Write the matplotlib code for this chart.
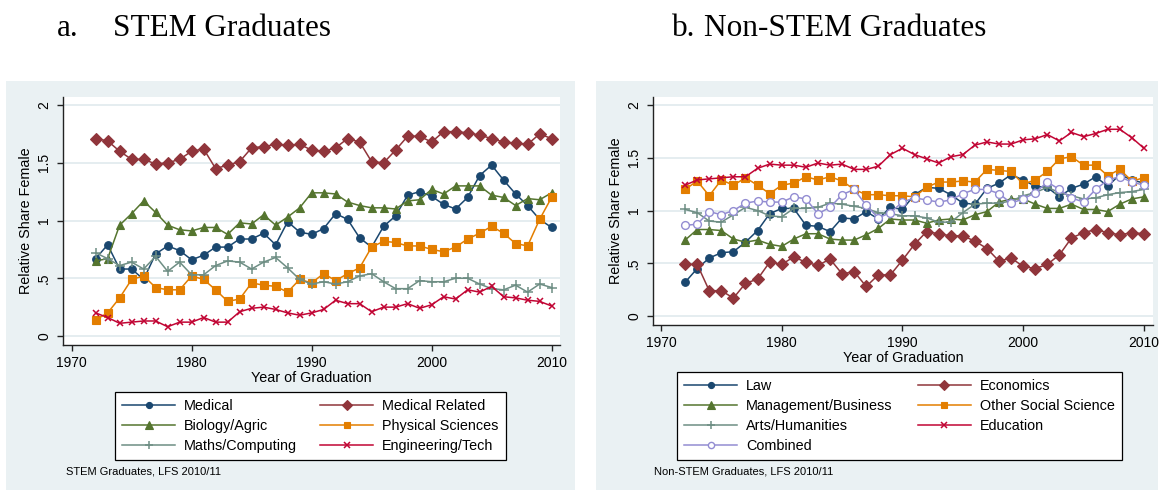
import numpy as np
import matplotlib
matplotlib.use("Agg")
import matplotlib.pyplot as plt
from matplotlib.patches import Rectangle

plt.rcParams['font.family'] = ['Liberation Sans', 'DejaVu Sans']

years = np.arange(1972, 2011)

# panel a: STEM graduates
medical = [0.67, 0.79, 0.58, 0.58, 0.49, 0.71, 0.78, 0.74, 0.66, 0.70,
           0.77, 0.77, 0.84, 0.84, 0.89, 0.79, 0.99, 0.90, 0.88, 0.93,
           1.06, 1.01, 0.85, 0.77, 0.95, 1.04, 1.22, 1.25, 1.21, 1.14,
           1.10, 1.20, 1.39, 1.48, 1.35, 1.23, 1.13, 1.01, 0.94]
medical_related = [1.71, 1.69, 1.60, 1.53, 1.53, 1.49, 1.50, 1.53, 1.60, 1.62,
                   1.45, 1.48, 1.51, 1.63, 1.64, 1.66, 1.65, 1.66, 1.61, 1.60,
                   1.63, 1.71, 1.68, 1.51, 1.50, 1.61, 1.73, 1.73, 1.68, 1.77,
                   1.77, 1.76, 1.74, 1.71, 1.68, 1.67, 1.66, 1.75, 1.71]
biology = [0.65, 0.67, 0.96, 1.06, 1.17, 1.07, 0.96, 0.92, 0.91, 0.94,
           0.94, 0.88, 0.98, 0.97, 1.05, 0.96, 1.03, 1.11, 1.24, 1.24,
           1.23, 1.16, 1.13, 1.11, 1.11, 1.10, 1.17, 1.18, 1.27, 1.23,
           1.30, 1.30, 1.30, 1.22, 1.20, 1.13, 1.19, 1.18, 1.24]
physical = [0.14, 0.20, 0.33, 0.49, 0.52, 0.42, 0.40, 0.40, 0.52, 0.49,
            0.40, 0.30, 0.32, 0.46, 0.44, 0.43, 0.38, 0.49, 0.46, 0.54,
            0.48, 0.54, 0.59, 0.77, 0.82, 0.81, 0.78, 0.78, 0.75, 0.73,
            0.77, 0.84, 0.89, 0.95, 0.89, 0.80, 0.78, 1.01, 1.20]
maths = [0.72, 0.67, 0.61, 0.64, 0.58, 0.69, 0.56, 0.64, 0.53, 0.53,
         0.61, 0.65, 0.64, 0.58, 0.64, 0.68, 0.59, 0.49, 0.45, 0.47,
         0.45, 0.47, 0.52, 0.54, 0.47, 0.41, 0.41, 0.48, 0.47, 0.47,
         0.50, 0.50, 0.45, 0.41, 0.40, 0.44, 0.38, 0.45, 0.42]
engineering = [0.20, 0.16, 0.11, 0.12, 0.13, 0.13, 0.08, 0.12, 0.12, 0.16,
               0.12, 0.12, 0.21, 0.24, 0.25, 0.23, 0.20, 0.18, 0.20, 0.23,
               0.31, 0.28, 0.28, 0.21, 0.25, 0.25, 0.28, 0.24, 0.27, 0.34,
               0.32, 0.40, 0.38, 0.43, 0.34, 0.33, 0.31, 0.30, 0.26]

# panel b: non-STEM graduates
law = [0.32, 0.45, 0.55, 0.60, 0.61, 0.70, 0.81, 0.97, 1.02, 1.02,
       0.86, 0.85, 0.80, 0.93, 0.92, 0.99, 0.92, 1.03, 1.01, 1.15,
       1.22, 1.21, 1.15, 1.07, 1.06, 1.21, 1.26, 1.34, 1.29, 1.23,
       1.22, 1.13, 1.21, 1.25, 1.32, 1.23, 1.34, 1.29, 1.26]
economics = [0.49, 0.49, 0.24, 0.24, 0.17, 0.31, 0.35, 0.51, 0.49, 0.56,
             0.51, 0.48, 0.54, 0.40, 0.42, 0.28, 0.39, 0.39, 0.53, 0.68,
             0.80, 0.78, 0.76, 0.76, 0.71, 0.64, 0.52, 0.55, 0.47, 0.45,
             0.49, 0.58, 0.74, 0.79, 0.82, 0.79, 0.77, 0.79, 0.78]
management = [0.72, 0.82, 0.82, 0.81, 0.73, 0.70, 0.72, 0.68, 0.66, 0.73,
              0.78, 0.78, 0.73, 0.72, 0.72, 0.77, 0.83, 0.92, 0.91, 0.91,
              0.88, 0.91, 0.92, 0.91, 0.96, 0.99, 1.08, 1.11, 1.11, 1.06,
              1.02, 1.02, 1.06, 1.01, 1.01, 0.99, 1.06, 1.11, 1.13]
other_social = [1.20, 1.28, 1.14, 1.29, 1.24, 1.31, 1.24, 1.16, 1.24, 1.26,
                1.32, 1.29, 1.32, 1.28, 1.20, 1.15, 1.15, 1.14, 1.14, 1.13,
                1.22, 1.27, 1.27, 1.28, 1.27, 1.39, 1.38, 1.37, 1.25, 1.29,
                1.37, 1.49, 1.51, 1.43, 1.43, 1.33, 1.39, 1.28, 1.31]
arts = [1.01, 0.98, 0.90, 0.89, 0.96, 1.03, 1.00, 0.95, 0.94, 1.02,
        1.02, 1.03, 1.07, 1.06, 1.04, 1.02, 0.98, 0.97, 0.95, 0.95,
        0.93, 0.89, 0.89, 0.98, 1.06, 1.07, 1.07, 1.09, 1.14, 1.17,
        1.22, 1.17, 1.14, 1.11, 1.12, 1.15, 1.17, 1.18, 1.20]
education = [1.24, 1.29, 1.30, 1.31, 1.32, 1.32, 1.40, 1.44, 1.43, 1.43,
             1.41, 1.45, 1.43, 1.44, 1.39, 1.39, 1.42, 1.53, 1.59, 1.53,
             1.49, 1.45, 1.51, 1.53, 1.62, 1.65, 1.63, 1.63, 1.67, 1.68,
             1.72, 1.66, 1.74, 1.70, 1.73, 1.77, 1.77, 1.69, 1.59]
combined = [0.86, 0.87, 0.99, 0.96, 1.00, 1.07, 1.09, 1.08, 1.08, 1.13,
            1.11, 0.97, 1.03, 1.15, 1.20, 1.05, 0.93, 0.98, 1.08, 1.12,
            1.10, 1.08, 1.10, 1.16, 1.20, 1.20, 1.16, 1.07, 1.11, 1.17,
            1.27, 1.20, 1.12, 1.08, 1.20, 1.29, 1.32, 1.27, 1.24]

# Stata s2color palette
NAVY = '#1A476F'
MAROON = '#90353B'
FOREST = '#55752F'
DKORANGE = '#E37E00'
TEAL = '#6E8E84'
CRANBERRY = '#C10534'
LAVENDER = '#938DD2'
PANEL_BG = '#EAF1F3'
GRID = '#E3ECEF'

W, H = 1163, 490
fig = plt.figure(figsize=(W / 100, H / 100), dpi=100)


def px_rect(x0, y0, x1, y1):
    # pixel box (top-left origin) -> figure fraction [left, bottom, width, height]
    return [x0 / W, 1 - y1 / H, (x1 - x0) / W, (y1 - y0) / H]


# graph region backgrounds (kept behind the axes)
for x0, x1 in [(6, 575), (596, 1158)]:
    l, b, w, h = px_rect(x0, 81, x1, 490)
    fig.patches.append(Rectangle((l, b), w, h, transform=fig.transFigure,
                                 facecolor=PANEL_BG, edgecolor='none', zorder=-10))

ax_a = fig.add_axes(px_rect(63, 97, 560, 345))
ax_b = fig.add_axes(px_rect(653, 97, 1153, 325))


def style_axes(ax, ylim, xlim):
    ax.set_facecolor('white')
    ax.set_xlim(*xlim)
    ax.set_ylim(*ylim)
    for side in ['top', 'right']:
        ax.spines[side].set_visible(False)
    for side in ['left', 'bottom']:
        ax.spines[side].set_color('#222222')
        ax.spines[side].set_linewidth(1.0)
    ax.set_yticks([0, 0.5, 1, 1.5, 2], ['0', '.5', '1', '1.5', '2'])
    ax.set_xticks([1970, 1980, 1990, 2000, 2010])
    ax.tick_params(axis='both', direction='out', length=4.5, width=1.0,
                   color='#222222', labelsize=10)
    ax.tick_params(axis='x', pad=3.5)
    ax.tick_params(axis='y', labelrotation=90, pad=4)
    for lab in ax.get_yticklabels():
        lab.set_va('center')
    ax.yaxis.grid(True, color=GRID, linewidth=1.3)
    ax.set_axisbelow(True)
    ax.set_xlabel('Year of Graduation', fontsize=10.4, labelpad=1)
    ax.set_ylabel('Relative Share Female', fontsize=10.4, labelpad=3)


def draw(ax, values, color, marker, ms, label, mfc=None, mew=0.8):
    return ax.plot(years, values, color=color, linewidth=1.1, marker=marker,
                   markersize=ms, markerfacecolor=mfc if mfc else color,
                   markeredgecolor=color, markeredgewidth=mew, label=label)[0]


style_axes(ax_a, (-0.078, 2.07), (1969.28, 2010.7))
style_axes(ax_b, (-0.085, 2.076), (1969.34, 2010.75))

# panel a series
h_med = draw(ax_a, medical, NAVY, 'o', 5.5, 'Medical')
h_medrel = draw(ax_a, medical_related, MAROON, 'D', 6.6, 'Medical Related')
h_bio = draw(ax_a, biology, FOREST, '^', 6.4, 'Biology/Agric')
h_phys = draw(ax_a, physical, DKORANGE, 's', 5.9, 'Physical Sciences')
h_math = draw(ax_a, maths, TEAL, '+', 7, 'Maths/Computing', mew=1.1)
h_eng = draw(ax_a, engineering, CRANBERRY, 'x', 5, 'Engineering/Tech', mew=1.1)

# panel b series
h_law = draw(ax_b, law, NAVY, 'o', 5.5, 'Law')
h_eco = draw(ax_b, economics, MAROON, 'D', 6.6, 'Economics')
h_man = draw(ax_b, management, FOREST, '^', 6.4, 'Management/Business')
h_oss = draw(ax_b, other_social, DKORANGE, 's', 5.9, 'Other Social Science')
h_art = draw(ax_b, arts, TEAL, '+', 7, 'Arts/Humanities', mew=1.1)
h_edu = draw(ax_b, education, CRANBERRY, 'x', 5, 'Education', mew=1.1)
h_com = draw(ax_b, combined, LAVENDER, 'o', 5.6, 'Combined', mfc='white', mew=1.0)

leg_kw = dict(loc='upper left', ncol=2, fontsize=10.4, frameon=True,
              fancybox=False, borderaxespad=0, borderpad=0.5,
              handlelength=3.67, handletextpad=0.62, labelspacing=0.41,
              numpoints=1, markerscale=0.8, bbox_transform=fig.transFigure)

leg_a = ax_a.legend([h_med, h_bio, h_math, h_medrel, h_phys, h_eng],
                    ['Medical', 'Biology/Agric', 'Maths/Computing',
                     'Medical Related', 'Physical Sciences', 'Engineering/Tech'],
                    bbox_to_anchor=(115 / W, 1 - 391.7 / H), columnspacing=1.6,
                    **leg_kw)
leg_b = ax_b.legend([h_law, h_man, h_art, h_com, h_eco, h_oss, h_edu],
                    ['Law', 'Management/Business', 'Arts/Humanities', 'Combined',
                     'Economics', 'Other Social Science', 'Education'],
                    bbox_to_anchor=(677 / W, 1 - 372 / H), columnspacing=1.73,
                    **leg_kw)
for leg in (leg_a, leg_b):
    fr = leg.get_frame()
    fr.set_edgecolor('black')
    fr.set_linewidth(0.9)
    fr.set_facecolor('white')
    fr.set_alpha(1)

# notes under each graph
fig.text(66 / W, 1 - 471 / H, 'STEM Graduates, LFS 2010/11', fontsize=8,
         va='center', ha='left')
fig.text(654 / W, 1 - 471 / H, 'Non-STEM Graduates, LFS 2010/11', fontsize=8,
         va='center', ha='left')

# panel headings
serif = ['Liberation Serif', 'DejaVu Serif']
fig.text(57 / W, 1 - 36 / H, 'a.', fontsize=22.5, family=serif, va='baseline')
fig.text(113 / W, 1 - 36 / H, 'STEM Graduates', fontsize=22.5, family=serif,
         va='baseline')
fig.text(672 / W, 1 - 36 / H, 'b.', fontsize=22.5, family=serif, va='baseline')
fig.text(704 / W, 1 - 36 / H, 'Non-STEM Graduates', fontsize=22.5, family=serif,
         va='baseline')

fig.savefig('out.png', dpi=100, facecolor='white')
